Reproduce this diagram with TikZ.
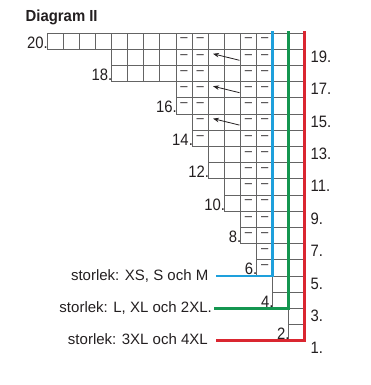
\documentclass[tikz,border=0pt]{standalone}
\usepackage{fontspec}
\setmainfont{Liberation Sans}
\newfontfamily\numfont[FakeStretch=0.9]{Liberation Sans}
\newfontfamily\titlefont[FakeStretch=0.93]{Liberation Sans}
\usetikzlibrary{arrows.meta}
\definecolor{gridc}{RGB}{100,100,100}
\definecolor{txtc}{RGB}{35,31,32}
\definecolor{sizeblue}{RGB}{30,160,220}
\definecolor{sizegreen}{RGB}{20,150,80}
\definecolor{sizered}{RGB}{218,38,48}
\tikzset{
  gridline/.style={draw=gridc, line width=0.8pt},
  purl/.style={inner sep=0pt, text=txtc, font=\fontsize{13}{13}\selectfont},
  numlab/.style={inner sep=0pt, text=txtc, font=\numfont\fontsize{16.5}{16.5}\selectfont},
  sizelab/.style={inner sep=0pt, text=txtc, font=\fontsize{15}{15}\selectfont},
  arr/.style={draw=txtc, line width=0.8pt, -{Stealth[length=6pt,width=4.5pt]}},
  sizeline/.style={line width=2.9pt, line join=miter}
}
\begin{document}
\begin{tikzpicture}[x=1pt,y=-1pt]
\useasboundingbox (0,0) rectangle (370,385);
\def\W{16.12}
\def\H{16.2}
\def\X{47}
\def\Y{33}
% title
\node[anchor=base west, inner sep=0pt, text=txtc] (title) at (25.5,22) {\titlefont\bfseries\fontsize{16}{16}\selectfont Diagram II};
% grid
\foreach \r/\s in {20/1,19/5,18/5,17/9,16/9,15/10,14/10,13/11,12/11,11/12,10/12,9/13,8/13,7/14,6/14,5/15,4/15,3/16,2/16} {
  \foreach \c in {\s,...,16} {
    \draw[gridline] ({\X+(\c-1)*\W},{\Y+(20-\r)*\H}) rectangle ++(\W,\H);
  }
}
% purl dashes
\foreach \r/\c in {20/9,20/10,20/13,20/14,19/9,19/10,19/13,19/14,18/9,18/10,18/13,18/14,17/9,17/10,17/13,17/14,16/9,16/10,16/13,16/14,15/10,15/13,15/14,14/10,14/13,14/14,13/13,13/14,12/13,12/14,11/13,11/14,10/13,10/14,9/13,9/14,8/13,8/14,7/14,6/14} {
  \node[purl] (p\r-\c) at ({\X+(\c-0.5)*\W},{\Y+(20.5-\r)*\H-1}) {–};
}
% arrows
\foreach \r in {19,17,15} {
  \coordinate (at\r) at (239.5,{\Y+(20.5-\r)*\H+3});
  \coordinate (ah\r) at (213,{\Y+(20.5-\r)*\H-3.5});
  \draw[arr] (at\r) -- (ah\r);
}
% left row numbers
\foreach \r/\s in {20/1,18/5,16/9,14/10,12/11,10/12,8/13,6/14,4/15,2/16} {
  \node[numlab, anchor=base east] (l\r) at ({\X+(\s-1)*\W+1},{\Y+(20.5-\r)*\H+7}) {\r.};
}
% right row numbers
\foreach \r in {19,17,...,1} {
  \node[numlab, anchor=base west] (r\r) at (310.5,{\Y+(20.5-\r)*\H+5}) {\r.};
}
% size lines
\coordinate (btop) at ({\X+14*\W},31.5);
\coordinate (bend) at (215.7,{\Y+15*\H});
\coordinate (gtop) at ({\X+15*\W},31.5);
\coordinate (gend) at (214,{\Y+17*\H});
\coordinate (rtop) at ({\X+16*\W},31.5);
\coordinate (rend) at (215.7,{\Y+19*\H});
\draw[sizeline, draw=sizeblue] (btop) |- (bend);
\draw[sizeline, draw=sizegreen] (gtop) |- (gend);
\draw[sizeline, draw=sizered] (rtop) |- (rend);
% size labels
\node[sizelab, anchor=base east] (sxs) at (208.5,280.7) {storlek: XS, S och M};
\node[sizelab, anchor=base east] (sl) at (212,312.7) {storlek: L, XL och 2XL.};
\node[sizelab, anchor=base east] (s3xl) at (208,344.5) {storlek: 3XL och 4XL};
\end{tikzpicture}
\end{document}
